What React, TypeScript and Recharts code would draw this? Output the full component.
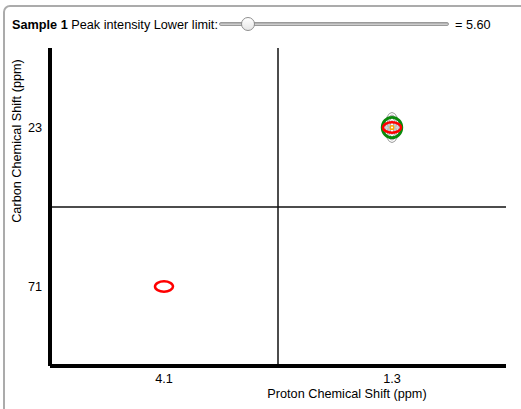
import { ReferenceLine, Scatter, ScatterChart, XAxis, YAxis } from "recharts";

// tick labels (bands): proton across, carbon down
const protonLabels = ["4.1", "1.3"];
const carbonLabels = ["23", "71"];

// peaks per contour level
const grayPeaks = [{ proton: "1.3", carbon: "23" }];
const greenPeaks = [{ proton: "1.3", carbon: "23" }];
const redPeaks = [
  { proton: "4.1", carbon: "71" },
  { proton: "1.3", carbon: "23" },
];
const orangePeaks = [{ proton: "1.3", carbon: "23" }];

const lowerLimit = 5.6;

const FONT = "'Liberation Sans', Arial, Helvetica, sans-serif";
const FS = 12.7;

const toXY = (p: { proton: string; carbon: string }) => ({
  x: protonLabels.indexOf(p.proton) + 0.5,
  y: carbonLabels.indexOf(p.carbon) + 0.5,
});

const grayShape = (props: any) => (
  <g fill="none" stroke="#9a9a9a" strokeWidth={1}>
    <ellipse cx={props.cx} cy={props.cy} rx={7} ry={15} />
    <ellipse cx={props.cx} cy={props.cy} rx={5} ry={12.5} />
    <ellipse cx={props.cx} cy={props.cy} rx={3.2} ry={10} />
    <ellipse cx={props.cx} cy={props.cy} rx={1.8} ry={7} />
  </g>
);
const ring = (rx: number, ry: number, stroke: string, sw: number) => (props: any) => (
  <ellipse cx={props.cx} cy={props.cy} rx={rx} ry={ry} fill="none" stroke={stroke} strokeWidth={sw} />
);

const YTitle = ({ viewBox }: any) => (
  <text
    x={17}
    y={viewBox.y + 93}
    transform={`rotate(-90, 17, ${viewBox.y + 93})`}
    textAnchor="middle"
    dominantBaseline="central"
    fontSize={FS}
    fill="#000"
    fontFamily={FONT}
  >
    Carbon Chemical Shift (ppm)
  </text>
);

const XTitle = ({ viewBox }: any) => (
  <text
    x={viewBox.x + 297}
    y={viewBox.y + 28}
    textAnchor="middle"
    dominantBaseline="central"
    fontSize={FS}
    fill="#000"
    fontFamily={FONT}
  >
    Proton Chemical Shift (ppm)
  </text>
);

export default function App() {
  return (
    <div
      style={{
        position: "fixed", left: 0, top: 0, width: 521, height: 409,
        overflow: "hidden", background: "#fff", fontFamily: FONT,
      }}
    >
      <div
        style={{
          position: "absolute", left: 3, top: 5, width: 560, height: 460,
          border: "2px solid #ababab", borderRadius: 7, boxSizing: "border-box",
        }}
      />
      <div style={{ position: "absolute", left: 12, top: 17, fontSize: FS, whiteSpace: "nowrap", lineHeight: "16px" }}>
        <b>Sample 1</b> Peak intensity Lower limit:
      </div>
      {/* slider */}
      <div
        style={{
          position: "absolute", left: 219, top: 22, width: 230, height: 4, borderRadius: 2,
          background: "linear-gradient(#a8a8a8, #d8d8d8)", border: "1px solid #9a9a9a", boxSizing: "border-box",
        }}
      />
      <div
        style={{
          position: "absolute", left: 241, top: 17, width: 14, height: 14, borderRadius: 8,
          background: "linear-gradient(#ffffff, #e6e6e6)", border: "1px solid #8f8f8f", boxSizing: "border-box",
        }}
      />
      <div style={{ position: "absolute", left: 455, top: 17, fontSize: FS, lineHeight: "16px" }}>
        = {lowerLimit.toFixed(2)}
      </div>

      <ScatterChart
        width={521}
        height={409}
        margin={{ top: 48, right: 15, bottom: 0, left: 20 }}
        style={{ position: "absolute", left: 0, top: 0 }}
      >
        <XAxis
          type="number"
          dataKey="x"
          domain={[0, 2]}
          ticks={[0.5, 1.5]}
          tickFormatter={(v: number) => protonLabels[Math.floor(v)]}
          height={43}
          tickLine={false}
          axisLine={{ stroke: "#000", strokeWidth: 4 }}
          tick={{ fill: "#000", fontSize: FS, fontFamily: FONT }}
          label={<XTitle />}
        />
        <YAxis
          type="number"
          dataKey="y"
          domain={[0, 2]}
          reversed
          ticks={[0.5, 1.5]}
          tickFormatter={(v: number) => carbonLabels[Math.floor(v)]}
          width={30}
          tickLine={false}
          axisLine={{ stroke: "#000", strokeWidth: 4 }}
          tick={{ fill: "#000", fontSize: FS, fontFamily: FONT }}
          label={<YTitle />}
        />
        <ReferenceLine x={1} stroke="#111" strokeWidth={1.5} />
        <ReferenceLine y={1} stroke="#111" strokeWidth={1.5} />
        <Scatter data={grayPeaks.map(toXY)} shape={grayShape} isAnimationActive={false} />
        <Scatter data={greenPeaks.map(toXY)} shape={ring(9.8, 10.2, "#0a8a0a", 2.8)} isAnimationActive={false} />
        <Scatter data={redPeaks.map(toXY)} shape={ring(9, 5.2, "#ff0000", 2.5)} isAnimationActive={false} />
        <Scatter data={orangePeaks.map(toXY)} shape={ring(1.8, 1.8, "#ffa500", 1.5)} isAnimationActive={false} />
      </ScatterChart>
    </div>
  );
}
